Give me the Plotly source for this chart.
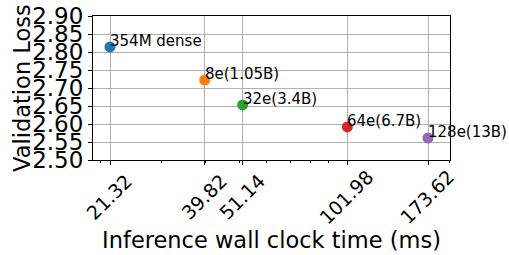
import math
import plotly.graph_objects as go

labels = ["354M dense", "8e(1.05B)", "32e(3.4B)", "64e(6.7B)", "128e(13B)"]
time_ms = [21.32, 39.82, 51.14, 101.98, 173.62]
val_loss = [2.814, 2.722, 2.653, 2.592, 2.561]
colors = ["#1f77b4", "#ff7f0e", "#2ca02c", "#d62728", "#9467bd"]
y_ticks = [2.50, 2.55, 2.60, 2.65, 2.70, 2.75, 2.80, 2.85, 2.90]
minor_ticks = [20, 30, 40, 50, 60, 70, 80, 90, 200]

fig = go.Figure()
for lab, x, y, c in zip(labels, time_ms, val_loss, colors):
    fig.add_trace(go.Scatter(x=[x], y=[y], mode="markers",
                             marker=dict(color=c, size=11, line=dict(width=0)),
                             showlegend=False, cliponaxis=False))
    fig.add_annotation(x=math.log10(x), y=y, xref="x", yref="y", text=lab, showarrow=False,
                       xanchor="left", yanchor="bottom", yshift=-5, xshift=-2,
                       font=dict(size=15, color="black", family="DejaVu Sans"))

# x tick labels, rotated 45 degrees and centred under each tick
for v in time_ms:
    fig.add_annotation(x=math.log10(v), y=-0.257, xref="x", yref="paper",
                       text=f"{v:.2f}", showarrow=False, textangle=-45,
                       xanchor="center", yanchor="middle", xshift=-1,
                       font=dict(size=19, color="black", family="DejaVu Sans"))

# y axis title
fig.add_annotation(x=-0.199, y=0.5, xref="paper", yref="paper", text="Validation Loss",
                   showarrow=False, textangle=-90, xanchor="center", yanchor="middle",
                   font=dict(size=22.5, color="black", family="DejaVu Sans"))

fig.update_layout(
    width=509, height=255,
    margin=dict(l=93, r=59, t=16, b=95),
    paper_bgcolor="white", plot_bgcolor="white",
    font=dict(family="DejaVu Sans", color="black"),
    xaxis=dict(
        type="log", range=[1.2801, 2.3026], automargin=False,
        tickmode="array", tickvals=time_ms, showticklabels=False,
        ticks="outside", ticklen=4, tickcolor="black", tickwidth=1,
        showgrid=True, gridcolor="#b0b0b0", gridwidth=0.8,
        showline=True, linecolor="black", linewidth=1, mirror=True,
        zeroline=False,
        minor=dict(tickmode="array", tickvals=minor_ticks, ticks="outside",
                   ticklen=2, tickcolor="black", showgrid=False),
        title=dict(text="Inference wall clock time (ms)", font=dict(size=22.5), standoff=68),
    ),
    yaxis=dict(
        range=[2.50, 2.90], automargin=False,
        tickmode="array", tickvals=y_ticks, ticktext=[f"{v:.2f}" for v in y_ticks],
        tickfont=dict(size=23, family="DejaVu Sans"),
        ticks="outside", ticklen=4, tickcolor="black", tickwidth=1,
        showgrid=True, gridcolor="#b0b0b0", gridwidth=0.8,
        showline=True, linecolor="black", linewidth=1, mirror=True,
        zeroline=False,
    ),
)
fig.write_html("out.html", config={"displayModeBar": False},
               post_script="document.body.style.margin='0';document.body.style.overflow='hidden';")
